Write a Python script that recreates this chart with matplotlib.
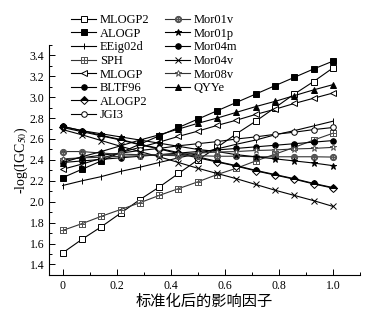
import numpy as np
import matplotlib
matplotlib.use("Agg")
import matplotlib.pyplot as plt
from matplotlib.ticker import MultipleLocator

plt.rcParams['font.family'] = ['Liberation Serif', 'DejaVu Serif']
plt.rcParams['mathtext.fontset'] = 'stix'

# normalized factor, 15 steps
x = np.array([0, 1, 2, 3, 4, 5, 6, 7, 8, 9, 10, 11, 12, 13, 14]) / 14

mlogp2 = [1.51, 1.64, 1.76, 1.89, 2.02, 2.14, 2.27, 2.40, 2.52, 2.65, 2.77, 2.90, 3.03, 3.15, 3.28]
alogp = [2.23, 2.31, 2.39, 2.47, 2.55, 2.63, 2.71, 2.79, 2.87, 2.95, 3.03, 3.11, 3.19, 3.27, 3.345]
eeig02d = [2.155, 2.20, 2.24, 2.29, 2.33, 2.375, 2.42, 2.46, 2.505, 2.55, 2.59, 2.64, 2.68, 2.725, 2.77]
sph = [1.725, 1.79, 1.86, 1.925, 1.99, 2.06, 2.125, 2.19, 2.26, 2.32, 2.39, 2.455, 2.52, 2.59, 2.655]
mlogp = [2.31, 2.36, 2.415, 2.47, 2.52, 2.57, 2.625, 2.675, 2.73, 2.78, 2.835, 2.885, 2.94, 2.99, 3.04]
bltf96 = [2.72, 2.68, 2.635, 2.595, 2.55, 2.51, 2.47, 2.43, 2.385, 2.345, 2.30, 2.26, 2.22, 2.175, 2.135]
alogp2 = [2.71, 2.67, 2.63, 2.59, 2.545, 2.505, 2.46, 2.42, 2.38, 2.34, 2.295, 2.255, 2.215, 2.17, 2.13]
jgi3 = [2.40, 2.42, 2.445, 2.465, 2.49, 2.51, 2.535, 2.555, 2.575, 2.60, 2.62, 2.645, 2.665, 2.69, 2.71]
mor01v = [2.48, 2.48, 2.465, 2.455, 2.45, 2.445, 2.44, 2.44, 2.435, 2.435, 2.43, 2.43, 2.43, 2.43, 2.427]
mor01p = [2.72, 2.68, 2.65, 2.62, 2.59, 2.56, 2.53, 2.50, 2.48, 2.45, 2.43, 2.41, 2.39, 2.37, 2.345]
mor04m = [2.375, 2.39, 2.405, 2.42, 2.435, 2.45, 2.465, 2.48, 2.495, 2.51, 2.525, 2.54, 2.555, 2.57, 2.585]
mor04v = [2.69, 2.64, 2.585, 2.53, 2.48, 2.43, 2.375, 2.32, 2.27, 2.22, 2.165, 2.11, 2.06, 2.01, 1.955]
mor08v = [2.41, 2.42, 2.425, 2.435, 2.44, 2.45, 2.455, 2.465, 2.475, 2.48, 2.49, 2.495, 2.505, 2.51, 2.52]
qyye = [2.375, 2.43, 2.48, 2.535, 2.59, 2.64, 2.695, 2.75, 2.80, 2.855, 2.91, 2.96, 3.015, 3.07, 3.12]

fig = plt.figure(figsize=(3.75, 3.12), dpi=100)
ax = fig.add_axes([0.131, 0.119, 0.829, 0.737])

lw = 0.8
ms = 4
col1 = []
col2 = []

def draw(vals, label, marker, fc, ec='black', lc='black', size=ms, **kw):
    h, = ax.plot(x, vals, color=lc, lw=lw, marker=marker, ms=size,
                 mfc=fc, mec=ec, mew=0.7, label=label, **kw)
    return h

col1.append(draw(mlogp2, 'MLOGP2', 's', 'white'))
col1.append(draw(alogp, 'ALOGP', 's', 'black'))
col1.append(draw(eeig02d, 'EEig02d', '|', 'black', size=5))
col1.append(draw(sph, 'SPH', r'$\boxplus$', '#555555', ec='#555555', lc='#333333', size=4.5))
col1.append(draw(mlogp, 'MLOGP', '<', 'white'))
col1.append(draw(bltf96, 'BLTF96', 'o', 'black'))
col1.append(draw(alogp2, 'ALOGP2', 'D', 'black', fillstyle='top', markerfacecoloralt='white'))
col1.append(draw(jgi3, 'JGI3', 'o', 'white'))
col2.append(draw(mor01v, 'Mor01v', r'$\oplus$', '#555555', ec='#555555', lc='#333333', size=4.5))
col2.append(draw(mor01p, 'Mor01p', '*', 'black', size=5))
col2.append(draw(mor04m, 'Mor04m', 'o', 'black'))
col2.append(draw(mor04v, 'Mor04v', 'x', 'black'))
col2.append(draw(mor08v, 'Mor08v', '*', 'white', ec='#555555', lc='#333333', size=5))
col2.append(draw(qyye, 'QYYe', '^', 'black'))

ax.set_xlim(-0.05, 1.1)
ax.set_ylim(1.3, 3.5)
ax.xaxis.set_major_locator(MultipleLocator(0.2))
ax.xaxis.set_minor_locator(MultipleLocator(0.1))
ax.yaxis.set_major_locator(MultipleLocator(0.2))
ax.yaxis.set_minor_locator(MultipleLocator(0.1))
ax.set_xticks([0, 0.2, 0.4, 0.6, 0.8, 1.0])
ax.set_xticklabels(['0', '0.2', '0.4', '0.6', '0.8', '1.0'])
ax.tick_params(which='both', direction='in', labelsize=8.5, width=0.7)
ax.tick_params(which='major', length=4)
ax.tick_params(which='minor', length=2.5)
for s in ['top', 'right']:
    ax.spines[s].set_visible(False)
for s in ['left', 'bottom']:
    ax.spines[s].set_linewidth(0.8)

ax.set_xlabel('标准化后的影响因子', family=['Noto Sans CJK SC', 'DejaVu Sans'],
              fontsize=11, labelpad=1)
ax.set_ylabel('-log(IGC$_{50}$)', fontsize=10, labelpad=0)

leg_kw = dict(frameon=False, fontsize=9, handlelength=2.0, handletextpad=0.3,
              labelspacing=0.13, borderaxespad=0, borderpad=0)
fig.legend(handles=col1, loc='upper left', bbox_to_anchor=(0.19, 0.955), **leg_kw)
fig.legend(handles=col2, loc='upper left', bbox_to_anchor=(0.44, 0.955), **leg_kw)

fig.savefig('out.png', dpi=100)
